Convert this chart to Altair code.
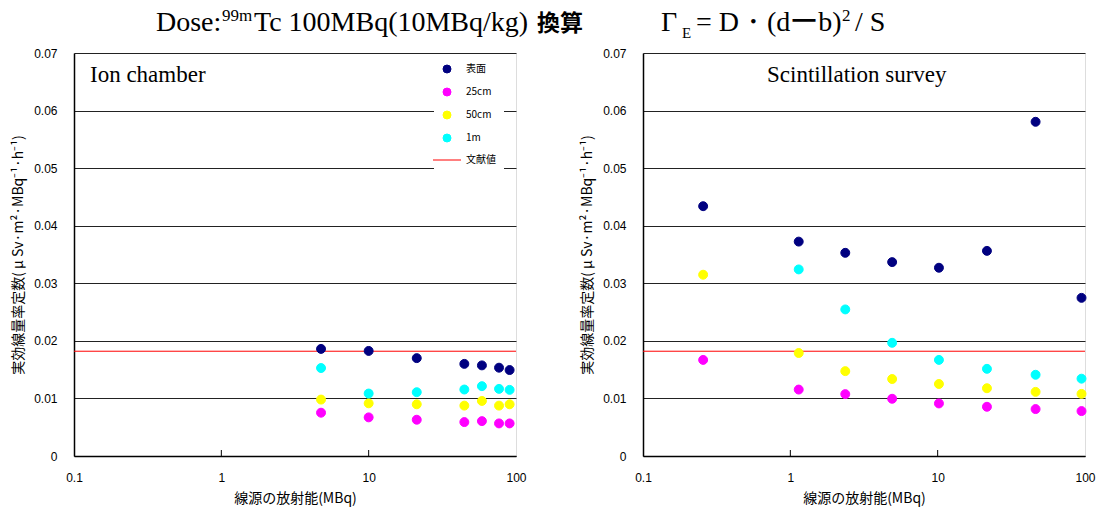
import altair as alt
import pandas as pd

# Effective dose-rate constants (μSv·m²·MBq⁻¹·h⁻¹) against source activity (MBq)
ion_activity = [4.75, 10.0, 21.2, 44.6, 58.7, 76.7, 90.5]
ion_surface = [0.0186, 0.01825, 0.0170, 0.0160, 0.01574, 0.01534, 0.01493]
ion_25cm = [0.00752, 0.00671, 0.0063, 0.00589, 0.00606, 0.00566, 0.00566]
ion_50cm = [0.0098, 0.00915, 0.00898, 0.00875, 0.00956, 0.00875, 0.00898]
ion_1m = [0.01528, 0.01085, 0.01108, 0.01155, 0.01213, 0.01166, 0.01149]

scint_activity = [0.256, 1.14, 2.36, 4.91, 10.2, 21.6, 46.2, 94.7]
scint_surface = [0.04339, 0.03724, 0.03529, 0.03368, 0.0327, 0.03563, 0.05805, 0.02747]
scint_25cm = [0.01669, 0.01154, 0.01075, 0.00994, 0.00913, 0.00855, 0.00815, 0.0078]
scint_50cm = [0.03149, 0.01789, 0.01474, 0.01337, 0.01251, 0.01177, 0.01114, 0.01079]
scint_1m = [None, 0.03241, 0.02546, 0.01966, 0.01669, 0.01514, 0.01411, 0.01343]

literature_value = 0.0182

series_names = ["表面", "25cm", "50cm", "1m", "文献値"]
series_colors = ["#000080", "#ff00ff", "#ffff00", "#00ffff", "#ff0000"]
# the reference value is shown in the key as a short horizontal line
series_shapes = ["circle", "circle", "circle", "circle", "M-3.5,0H3.5"]

x_ticks = [0.1, 1, 10, 100]
x_inner_ticks = [1, 10]
y_ticks = [0, 0.01, 0.02, 0.03, 0.04, 0.05, 0.06, 0.07]

W, H = 442, 403
SERIF = "Liberation Serif"
SANS = "Liberation Sans"
CJK = "Noto Sans CJK JP"


def long_table(activity, columns):
    rows = []
    for name, values in zip(series_names, columns):
        for a, v in zip(activity, values):
            if v is not None:
                rows.append({"activity": a, "value": v, "series": name})
    return pd.DataFrame(rows)


x_scale = alt.Scale(type="log", domain=[0.1, 100], nice=False)
y_scale = alt.Scale(domain=[0, 0.07], nice=False, zero=True)

x_axis = alt.Axis(
    values=x_ticks, format="~g", title="線源の放射能(MBq)", grid=False,
    ticks=False, tickSize=0, labelPadding=16, labelFont=SANS, labelFontSize=12,
    labelColor="black", labelFlush=False, labelOverlap=False,
    titleFont=CJK, titleFontSize=14, titleFontWeight="normal", titleColor="black",
    titleY=35, titleBaseline="top", domainColor="black", domainWidth=1.5,
)
y_axis = alt.Axis(
    values=y_ticks, format="~g",
    title="実効線量率定数( μ Sv·m²·MBq⁻¹·h⁻¹)",
    grid=True, gridColor="#222222", gridWidth=1, ticks=False, tickSize=0,
    labelPadding=17, labelFont=SANS, labelFontSize=12, labelColor="black",
    labelFlush=False, titleFont=CJK, titleFontSize=14, titleFontWeight="normal",
    titleColor="black", titleAngle=270, titleX=-63, titleY=H / 2,
    titleAlign="center", titleBaseline="top",
    domainColor="black", domainWidth=1.5,
)


def text_layer(text, x, y, font, size, align="left", weight="normal"):
    return alt.Chart(pd.DataFrame({"t": [text]})).mark_text(
        font=font, fontSize=size, align=align, baseline="alphabetic",
        color="black", fontWeight=weight,
    ).encode(text="t:N", x=alt.value(x), y=alt.value(y))


def panel(activity, columns, label, label_x, legend_x, legend_y, extra=()):
    data = long_table(activity, columns)
    legend = alt.Legend(
        title=None, orient="none", direction="vertical", legendX=legend_x,
        legendY=legend_y, fillColor="white", padding=8, labelFont=CJK,
        labelFontSize=10, labelColor="black", labelOffset=14, rowPadding=11,
        symbolStrokeWidth=1, symbolSize=64,
    )
    color_scale = alt.Scale(domain=series_names, range=series_colors)
    points = alt.Chart(data).mark_point(
        filled=True, opacity=1, strokeWidth=1, size=80
    ).encode(
        x=alt.X("activity:Q", scale=x_scale, axis=x_axis),
        y=alt.Y("value:Q", scale=y_scale, axis=y_axis),
        fill=alt.Fill("series:N", scale=color_scale, legend=legend),
        stroke=alt.Stroke("series:N", scale=color_scale, legend=legend),
        shape=alt.Shape("series:N", scale=alt.Scale(domain=series_names, range=series_shapes), legend=legend),
    )
    reference = alt.Chart(pd.DataFrame({"value": [literature_value]})).mark_rule(
        color="#ff0000", strokeWidth=1
    ).encode(y=alt.Y("value:Q", scale=y_scale, axis=y_axis))
    inner_ticks = alt.Chart(pd.DataFrame({"activity": x_inner_ticks})).mark_rule(
        color="black", strokeWidth=1
    ).encode(
        x=alt.X("activity:Q", scale=x_scale, axis=x_axis),
        y=alt.value(H), y2=alt.value(H - 6),
    )
    name = text_layer(label, label_x, 29, SERIF, 23)
    return alt.layer(reference, inner_ticks, points, name, *extra).properties(width=W, height=H)


# Heading drawn above the left plot (coordinates relative to its plot area)
heading = [
    text_layer("Dose:", 82, -22, SERIF, 28),
    text_layer("99m", 148, -32, SERIF, 17),
    text_layer("Tc 100MBq(10MBq/kg)", 180, -22, SERIF, 28),
    text_layer("換算", 463, -22, CJK, 23, weight="bold"),
    text_layer("Γ", 587, -22, SERIF, 28),
    text_layer("E", 608, -15, SERIF, 15),
    text_layer("= D・(dーb)", 622, -22, SERIF, 28),
    text_layer("2", 768, -32, SERIF, 17),
    text_layer("/ S", 781, -22, SERIF, 28),
]

left = panel(ion_activity, [ion_surface, ion_25cm, ion_50cm, ion_1m],
             "Ion chamber", 16, 360, 3, extra=heading)
right = panel(scint_activity, [scint_surface, scint_25cm, scint_50cm, scint_1m],
              "Scintillation survey", 124, 20, 1)

chart = alt.hconcat(left, right, spacing=127, bounds="flush").properties(
    padding={"left": 10, "top": 6, "right": 5, "bottom": 5}
).configure_view(stroke="#555555", strokeWidth=1).configure(font=SANS)

chart.save("out.html", embed_options={"renderer": "svg", "actions": False})
